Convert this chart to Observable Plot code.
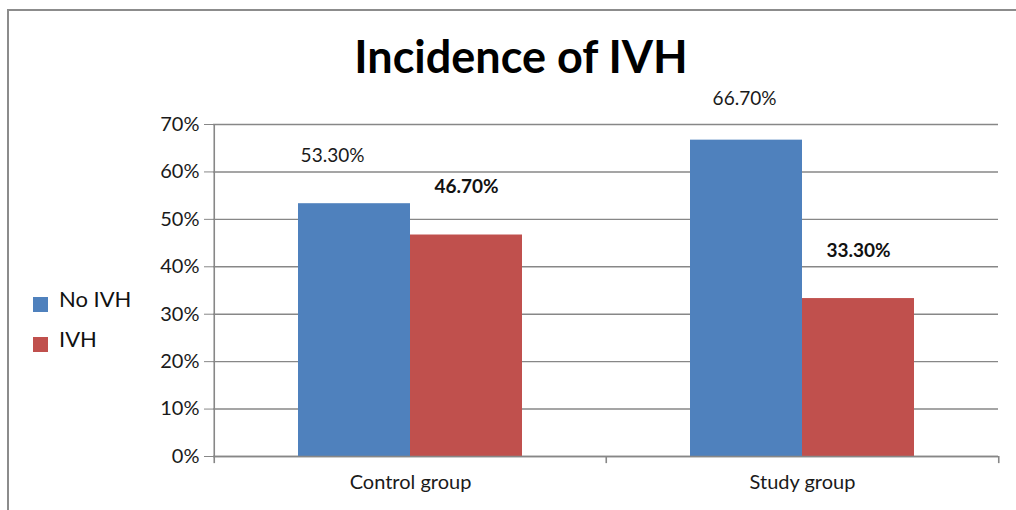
<!DOCTYPE html>
<html><head><meta charset="utf-8">
<script src="https://cdn.jsdelivr.net/npm/d3@7"></script>
<script src="https://cdn.jsdelivr.net/npm/@observablehq/plot@0.6"></script>
<style>
body{margin:0;background:#fff;}
#wrap{position:relative;width:1016px;height:510px;overflow:hidden;font-family:Lato,sans-serif;background:#fff;}
#border{position:absolute;left:7px;top:9px;width:1100px;height:600px;border-left:2px solid #8c8c8c;border-top:2px solid #8c8c8c;}
#title{position:absolute;left:0;top:34px;width:1042px;text-align:center;font-size:45px;font-weight:bold;line-height:45px;color:#000;}
.sw{position:absolute;width:15px;height:15px;}
.lt{position:absolute;font-size:22px;line-height:22px;color:#111;white-space:nowrap;}
#chart{position:absolute;left:0;top:0;}
</style>
</head><body>
<div id="wrap">
  <div id="border"></div>
  <div id="chart"></div>
  <div id="title">Incidence of IVH</div>
  <div id="legend"></div>
</div>
<script>
const groups = ["Control group", "Study group"];
const series = ["No IVH", "IVH"];
const noIVH = [53.3, 66.7];
const ivh = [46.7, 33.3];
const yTicks = [0, 10, 20, 30, 40, 50, 60, 70];
const colors = ["#4F81BD", "#C0504D"];
const title = "Incidence of IVH";

const W = 1016, H = 510, mL = 213, mR = 18, mT = 124, mB = 54;
const step = (W - mL - mR) / groups.length;
const bw = 224;
const pIn = 1 - bw / step;

const rows = groups.flatMap((g, i) => [
  {group: g, series: series[0], value: noIVH[i]},
  {group: g, series: series[1], value: ivh[i]}
]);
const blue = rows.filter(d => d.series === series[0]);
const red = rows.filter(d => d.series === series[1]);
const fmt = d => d.value.toFixed(2) + "%";
const grid = "#878787";

const chart = Plot.plot({
  width: W, height: H,
  marginLeft: mL, marginRight: mR, marginTop: mT, marginBottom: mB,
  style: {fontFamily: "Lato, sans-serif", fontSize: "20px", background: "transparent", color: "#222"},
  x: {type: "band", domain: groups, paddingInner: pIn, paddingOuter: pIn / 2, label: null},
  y: {domain: [0, 70], label: null},
  color: {domain: series, range: colors},
  marks: [
    Plot.gridY(yTicks, {stroke: grid, strokeOpacity: 1, strokeWidth: 1.4}),
    Plot.barY(blue, {x: "group", y: "value", fill: "series", insetRight: bw / 2}),
    Plot.barY(red, {x: "group", y: "value", fill: "series", insetLeft: bw / 2}),
    Plot.ruleY([0], {stroke: grid, strokeWidth: 1.6}),
    Plot.ruleX([groups[0]], {x: d => d, dx: -step / 2, y1: 0, y2: 70, stroke: grid, strokeWidth: 1.6}),
    Plot.ruleX(groups, {x: d => d, dx: -step / 2, y1: 0, y2: -1.5, stroke: grid, strokeWidth: 1.6}),
    Plot.ruleX([groups[groups.length - 1]], {x: d => d, dx: step / 2, y1: 0, y2: -1.5, stroke: grid, strokeWidth: 1.6}),
    Plot.axisY(yTicks, {tickFormat: d => d + "%", tickSize: 9, tickPadding: 5, fontSize: 20, stroke: grid, fill: "#1a1a1a", label: null}),
    Plot.axisX({tickSize: 0, tickPadding: 18, fontSize: 20, fill: "#1a1a1a", label: null}),
    Plot.text(blue.filter(d => d.group === groups[0]), {x: "group", y: "value", text: fmt, dx: -bw / 4 - 22, dy: -48, fontSize: 19, fill: "#1a1a1a"}),
    Plot.text(blue.filter(d => d.group === groups[1]), {x: "group", y: "value", text: fmt, dx: -bw / 4 - 2, dy: -41, fontSize: 19, fill: "#1a1a1a"}),
    Plot.text(red, {x: "group", y: "value", text: fmt, dx: bw / 4, dy: -48, fontSize: 19, fontWeight: "bold", fill: "#111"})
  ]
});
document.getElementById("chart").appendChild(chart);
document.getElementById("title").textContent = title;

const leg = document.getElementById("legend");
series.forEach((s, i) => {
  const sw = document.createElement("div");
  sw.className = "sw";
  sw.style.left = "33px";
  sw.style.top = (297 + i * 40) + "px";
  sw.style.background = colors[i];
  leg.appendChild(sw);
  const t = document.createElement("div");
  t.className = "lt";
  t.style.left = "59px";
  t.style.top = (288 + i * 40) + "px";
  t.textContent = s;
  leg.appendChild(t);
});
</script>
</body></html>
